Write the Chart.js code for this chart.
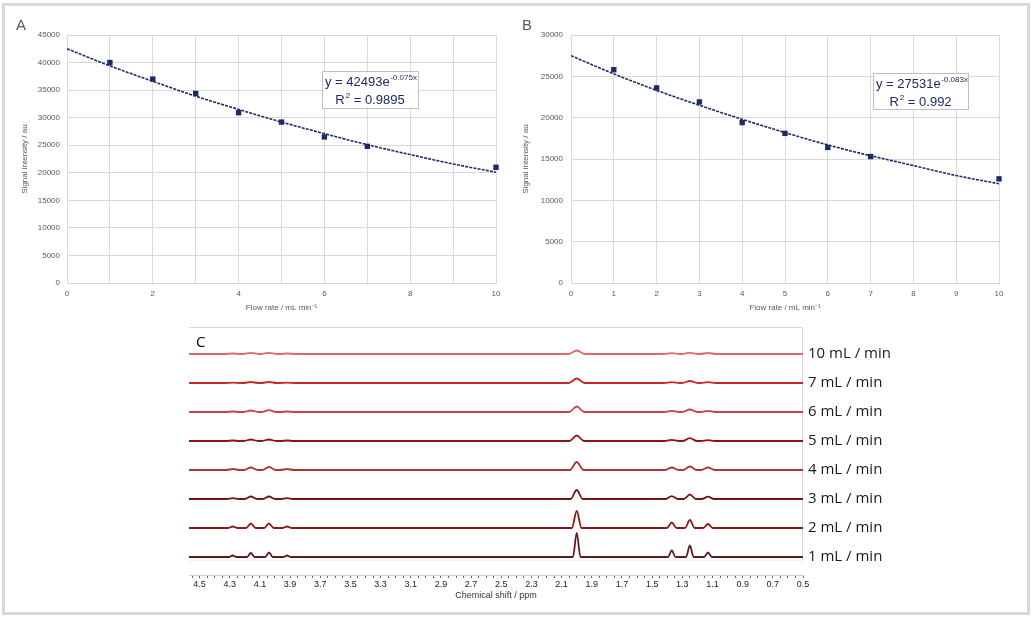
<!DOCTYPE html>
<html>
<head>
<meta charset="utf-8">
<script src="https://cdn.jsdelivr.net/npm/chart.js@4.4.1/dist/chart.umd.min.js"></script>
<style>
body { margin: 0; background: #fff; width: 1033px; height: 619px; overflow: hidden; position: relative; }
#frame { position: absolute; left: 2px; top: 3px; width: 1028px; height: 612px; box-sizing: border-box; border: 3px solid #d9d9d9; }
.box { position: absolute; }
</style>
</head>
<body>
<div id="frame"></div>
<div class="box" style="left:0;top:0;width:510px;height:320px"><canvas id="chartA"></canvas></div>
<div class="box" style="left:510px;top:0;width:520px;height:320px"><canvas id="chartB"></canvas></div>
<div class="box" style="left:180px;top:320px;width:850px;height:295px"><canvas id="chartC"></canvas></div>
<script>
// panels A and B: signal vs flow rate
var flowRates = [1, 2, 3, 4, 5, 6, 7, 10];
var signalA = [40000, 37000, 34400, 30900, 29200, 26500, 24800, 21000];
var signalB = [25800, 23600, 21900, 19400, 18100, 16400, 15300, 12600];

// exponential trendlines at each whole flow rate
var fitX = [0, 1, 2, 3, 4, 5, 6, 7, 8, 9, 10];
var fitA = [42500, 39400, 36600, 33900, 31500, 29200, 27100, 25100, 23300, 21600, 20100];
var fitB = [27500, 25300, 23300, 21500, 19800, 18200, 16700, 15400, 14200, 13000, 12000];

var eqA = ['y = 42493e', '-0.075x', ' = 0.9895'];
var eqB = ['y = 27531e', '-0.083x', ' = 0.992'];

// panel C: stacked 1H spectra
var spectrumLabels = ['1 mL / min', '2 mL / min', '3 mL / min', '4 mL / min',
                      '5 mL / min', '6 mL / min', '7 mL / min', '10 mL / min'];
var peakShifts = [4.28, 4.16, 4.04, 3.92, 2.00, 1.37, 1.25, 1.13];
var peakHeights = [
    [1.5, 4.0, 4.5, 1.5, 24.0, 6.5, 11.5, 4.5],
    [1.5, 4.5, 4.5, 1.5, 17.0, 5.5, 8.0, 4.0],
    [0.8, 2.5, 2.5, 0.8, 9.0, 2.8, 4.5, 2.3],
    [1.0, 2.5, 3.0, 1.0, 8.0, 2.5, 3.5, 2.5],
    [0.5, 1.5, 1.5, 0.5, 5.5, 1.2, 2.8, 0.8],
    [0.5, 1.5, 1.8, 0.5, 5.5, 1.2, 2.5, 1.2],
    [0.3, 1.0, 1.0, 0.3, 4.5, 0.8, 2.0, 0.8],
    [0.5, 1.2, 1.2, 0.5, 3.5, 0.8, 1.2, 1.0]
];
var peakWidths = [0.025, 0.032, 0.04, 0.045, 0.048, 0.05, 0.052, 0.055];
var ppmLabels = ['4.5', '4.3', '4.1', '3.9', '3.7', '3.5', '3.3', '3.1', '2.9', '2.7', '2.5',
                 '2.3', '2.1', '1.9', '1.7', '1.5', '1.3', '1.1', '0.9', '0.7', '0.5'];

var navy = '#1c2a66';
var gridGrey = '#d9d9d9';
var tickGrey = '#595959';
var smallFont = { family: 'Liberation Sans', size: 8 };
var traceColors = ['#5a1e1e', '#861a1a', '#721515', '#b03434', '#8e1414', '#cc4040', '#c82828', '#e06a6a'];
var traceGap = 29;

function panelPlugin(letter, letterX, box, eq) {
    return {
        id: 'panel' + letter,
        afterDraw: function (chart) {
            var ctx = chart.ctx;
            ctx.save();
            ctx.textAlign = 'left';
            ctx.textBaseline = 'alphabetic';
            ctx.fillStyle = tickGrey;
            ctx.font = '15px "Liberation Sans"';
            ctx.fillText(letter, letterX, 30);

            ctx.fillStyle = '#fff';
            ctx.fillRect(box.x, box.y, box.w, box.h);
            ctx.strokeStyle = '#bfbfbf';
            ctx.lineWidth = 1;
            ctx.strokeRect(box.x + 0.5, box.y + 0.5, box.w, box.h);

            ctx.fillStyle = navy;
            ctx.font = '13px "Liberation Sans"';
            ctx.fillText(eq[0], box.x + 3, box.y + 15);
            var w = ctx.measureText(eq[0]).width;
            ctx.font = '8px "Liberation Sans"';
            ctx.fillText(eq[1], box.x + 3 + w + 0.5, box.y + 9);

            ctx.font = '13px "Liberation Sans"';
            var wR = ctx.measureText('R').width;
            var wRest = ctx.measureText(eq[2]).width;
            ctx.font = '8px "Liberation Sans"';
            var w2 = ctx.measureText('2').width + 1;
            var x0 = box.x + box.w / 2 - (wR + w2 + wRest) / 2;
            ctx.fillText('2', x0 + wR + 1, box.y + 27);
            ctx.font = '13px "Liberation Sans"';
            ctx.fillText('R', x0, box.y + 33);
            ctx.fillText(eq[2], x0 + wR + w2, box.y + 33);
            ctx.restore();
        }
    };
}

function flowChart(id, signal, fit, o) {
    var points = flowRates.map(function (f, i) { return { x: f, y: signal[i] }; });
    var curve = fitX.map(function (f, i) { return { x: f, y: fit[i] }; });
    return new Chart(document.getElementById(id), {
        type: 'scatter',
        data: {
            datasets: [
                { data: points, pointStyle: 'rect', pointRadius: 3.8, backgroundColor: navy, borderWidth: 0, clip: false },
                { data: curve, showLine: true, pointRadius: 0, borderColor: navy, borderWidth: 1.6,
                  borderDash: [3, 1.2], cubicInterpolationMode: 'monotone' }
            ]
        },
        options: {
            animation: false,
            responsive: true,
            maintainAspectRatio: false,
            layout: { padding: { left: 0, top: 35, right: o.right, bottom: 0 } },
            plugins: { legend: { display: false }, tooltip: { enabled: false } },
            scales: {
                x: {
                    type: 'linear', min: 0, max: 10,
                    grid: { color: gridGrey, drawTicks: false },
                    border: { color: gridGrey },
                    ticks: { stepSize: 1, padding: 6, color: tickGrey, font: smallFont, callback: o.xLabel },
                    title: { display: true, text: 'Flow rate / mL min⁻¹', color: tickGrey, font: smallFont,
                             padding: { top: 0, bottom: 7 } },
                    afterFit: function (s) { s.height = 37; }
                },
                y: {
                    min: 0, max: o.yMax,
                    grid: { color: gridGrey, drawTicks: false },
                    border: { color: gridGrey },
                    ticks: { stepSize: 5000, padding: o.yPad, color: tickGrey, font: smallFont,
                             callback: function (v) { return String(v); } },
                    title: { display: true, text: 'Signal intensity / au', color: tickGrey, font: smallFont,
                             padding: { top: o.yTitle, bottom: 0 } },
                    afterFit: function (s) { s.width = o.yWidth; }
                }
            }
        },
        plugins: [panelPlugin(o.letter, o.letterX, o.box, o.eq)]
    });
}

flowChart('chartA', signalA, fitA, {
    right: 14, yMax: 45000, yWidth: 67, yPad: 7, yTitle: 20,
    xLabel: function (v) { return v % 2 === 0 ? String(v) : ''; },
    letter: 'A', letterX: 16, box: { x: 322, y: 71, w: 96, h: 37 }, eq: eqA
});
flowChart('chartB', signalB, fitB, {
    right: 31, yMax: 30000, yWidth: 61, yPad: 8, yTitle: 11,
    xLabel: function (v) { return String(v); },
    letter: 'B', letterX: 12, box: { x: 363, y: 73, w: 95, h: 36 }, eq: eqB
});

// panel C
var ppmMin = 0.5, ppmMax = 4.57;
var spectra = spectrumLabels.map(function (label, i) {
    var base = i * traceGap;
    var w = peakWidths[i];
    var pts = [{ x: ppmMax, y: base }];
    peakShifts.forEach(function (c, j) {
        pts.push({ x: c + w, y: base }, { x: c, y: base + peakHeights[i][j] }, { x: c - w, y: base });
    });
    pts.push({ x: ppmMin, y: base });
    return {
        label: label, data: pts, borderColor: traceColors[i], borderWidth: 1.8,
        pointRadius: 0, fill: false, cubicInterpolationMode: 'monotone'
    };
});

var ppmTicks = [];
for (var k = 91; k >= 10; k--) ppmTicks.push(k * 0.05);

var spectrumPlugin = {
    id: 'spectrumDecor',
    beforeDraw: function (chart) {
        var ctx = chart.ctx, a = chart.chartArea;
        var yb = chart.scales.y.getPixelForValue(-3);
        ctx.save();
        ctx.strokeStyle = gridGrey;
        ctx.lineWidth = 1;
        ctx.beginPath();
        ctx.moveTo(a.left, a.top + 0.5);
        ctx.lineTo(a.right - 0.5, a.top + 0.5);
        ctx.lineTo(a.right - 0.5, yb);
        ctx.stroke();
        ctx.strokeStyle = '#efefef';
        ctx.beginPath();
        ctx.moveTo(a.left, yb + 0.5);
        ctx.lineTo(a.right, yb + 0.5);
        ctx.stroke();
        ctx.restore();
    },
    afterDraw: function (chart) {
        var ctx = chart.ctx, a = chart.chartArea, y = chart.scales.y;
        ctx.save();
        ctx.fillStyle = '#1a1a1a';
        ctx.font = '15px "Open Sans"';
        ctx.textAlign = 'left';
        ctx.textBaseline = 'middle';
        spectrumLabels.forEach(function (label, i) {
            ctx.fillText(label, a.right + 5, y.getPixelForValue(i * traceGap));
        });
        ctx.fillStyle = '#000';
        ctx.font = '15px "Open Sans"';
        ctx.fillText('C', 16, 23);
        ctx.restore();
    }
};

new Chart(document.getElementById('chartC'), {
    type: 'line',
    data: { datasets: spectra },
    options: {
        animation: false,
        responsive: true,
        maintainAspectRatio: false,
        layout: { padding: { left: 9, top: 7, right: 227, bottom: 0 } },
        plugins: { legend: { display: false }, tooltip: { enabled: false } },
        scales: {
            x: {
                type: 'linear', reverse: true, min: ppmMin, max: ppmMax,
                afterBuildTicks: function (s) {
                    s.ticks = ppmTicks.map(function (v) { return { value: v }; });
                },
                ticks: {
                    autoSkip: false, maxRotation: 0, padding: 1, color: '#222',
                    font: { family: 'Liberation Sans', size: 9 },
                    callback: function (v) {
                        for (var i = 0; i < ppmLabels.length; i++) {
                            if (Math.abs(parseFloat(ppmLabels[i]) - v) < 1e-6) return ppmLabels[i];
                        }
                        return '';
                    }
                },
                grid: { drawOnChartArea: false, drawTicks: true, tickLength: 3, color: '#666' },
                border: { display: true, color: '#cfcfcf' },
                title: { display: true, text: 'Chemical shift / ppm', color: '#333',
                         font: { family: 'Liberation Sans', size: 9 }, padding: { top: 0, bottom: 14 } },
                afterFit: function (s) { s.height = 40; }
            },
            y: { display: false, min: -18, max: 230 }
        }
    },
    plugins: [spectrumPlugin]
});
</script>
</body>
</html>
